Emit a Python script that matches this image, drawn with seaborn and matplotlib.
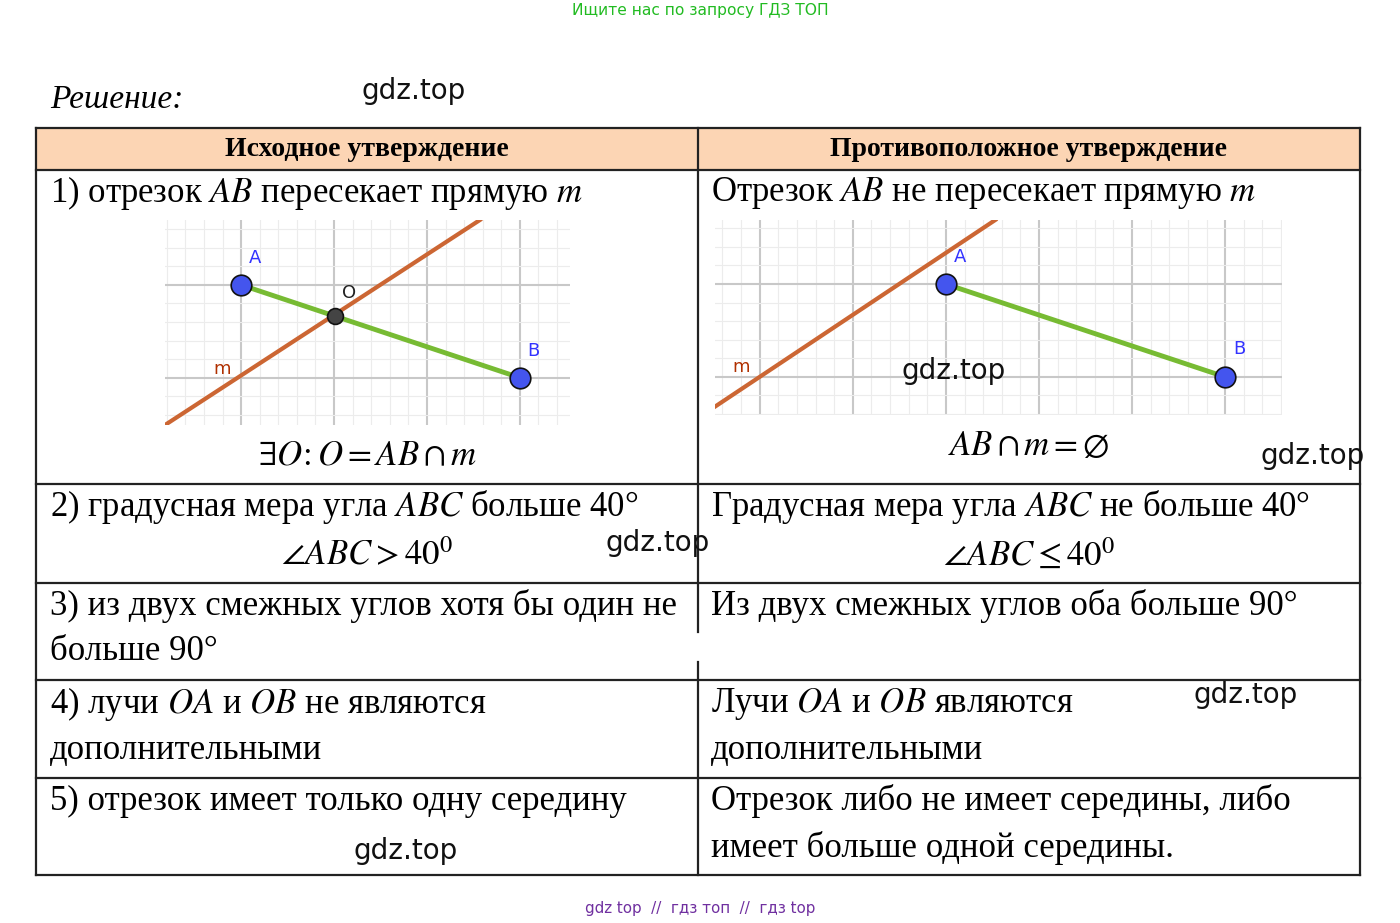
import matplotlib
matplotlib.use("Agg")
import matplotlib.pyplot as plt
import seaborn as sns
import numpy as np
import pandas as pd

plt.rcParams["mathtext.fontset"] = "stix"
SERIF = "Liberation Serif"

# ---- data ----
left_pts = pd.DataFrame({"name": ["A", "B", "O"], "x": [0.0, 3.0, 1.01], "y": [1.0, 0.0, 0.67]})
left_line_m = pd.DataFrame({"x": [-0.82, 2.57], "y": [-0.51, 1.70]})
left_labels = [("A", 0.15, 1.29, "#3333ff"), ("O", 1.16, 0.91, "#222222"),
               ("B", 3.15, 0.29, "#3333ff"), ("m", -0.2, 0.09, "#b03000")]
left_range = (-0.82, 3.54, -0.51, 1.70)

right_pts = pd.DataFrame({"name": ["A", "B"], "x": [0.0, 3.0], "y": [1.0, 0.0]})
right_line_m = pd.DataFrame({"x": [-2.48, 0.53], "y": [-0.32, 1.69]})
right_labels = [("A", 0.15, 1.29, "#3333ff"), ("B", 3.15, 0.30, "#3333ff"),
                ("m", -2.2, 0.11, "#b03000")]
right_range = (-2.48, 3.61, -0.41, 1.69)

header = ["Исходное утверждение", "Противоположное утверждение"]
col_x = [36, 698, 1360]
row_y = [128, 170, 484, 583, 680, 778, 875]

fig = plt.figure(figsize=(14, 9.23), dpi=100)
ax = fig.add_axes([0, 0, 1, 1])
ax.set_xlim(0, 1400); ax.set_ylim(923, 0); ax.axis("off")

W, H = 1400, 923
FS = 25
def T(x, y, s, size=FS, ha="left", target=None, **kw):
    kw.setdefault("family", SERIF)
    (target or ax).text(x, y, s, fontsize=size, ha=ha, va="center", **kw)

ax.add_patch(plt.Rectangle((36, 128), 1324, 42, facecolor="#fcd5b4", edgecolor="none"))
for y in row_y:
    ax.plot([36, 1360], [y, y], color="#222", lw=1.6)
ax.plot([36, 36], [128, 875], color="#222", lw=1.6)
ax.plot([1360, 1360], [128, 875], color="#222", lw=1.6)
ax.plot([698, 698], [128, 632], color="#222", lw=1.6)
ax.plot([698, 698], [662, 875], color="#222", lw=1.6)

T(700, 11, "Ищите нас по запросу ГДЗ ТОП", size=11.2, ha="center", color="#22bb22", family="DejaVu Sans")
T(50, 100, "Решение:", size=24, style="italic")
T(367, 149, header[0], size=20, ha="center", weight="bold")
T(1029, 149, header[1], size=20, ha="center", weight="bold")

T(50, 193, "1) отрезок $AB$ пересекает прямую $m$")
T(711, 193, "Отрезок $AB$ не пересекает прямую $m$")
T(367, 457, r"$\exists O\!:O=AB\cap m$", ha="center")
T(1029, 447, r"$AB\cap m=\emptyset$", ha="center")
T(50, 507, "2) градусная мера угла $ABC$ больше 40°")
T(711, 507, "Градусная мера угла $ABC$ не больше 40°")
T(367, 556, r"$\angle ABC>40^0$", ha="center")
T(1029, 556, r"$\angle ABC\leq 40^0$", ha="center")
T(50, 606, "3) из двух смежных углов хотя бы один не")
T(50, 652, "больше 90°")
T(711, 606, "Из двух смежных углов оба больше 90°")
T(50, 704, "4) лучи $OA$ и $OB$ не являются")
T(50, 751, "дополнительными")
T(711, 704, "Лучи $OA$ и $OB$ являются")
T(711, 751, "дополнительными")
T(50, 801, "5) отрезок имеет только одну середину")
T(711, 801, "Отрезок либо не имеет середины, либо")
T(711, 848, "имеет больше одной середины.")
T(700, 908, "gdz top  //  гдз топ  //  гдз top", size=10.9, ha="center", family="DejaVu Sans", color="#7030a0")

def diagram(px0, py0, px1, py1, rng, pts, line, labels):
    x0, x1, y0, y1 = rng
    a = fig.add_axes([px0 / W, 1 - py1 / H, (px1 - px0) / W, (py1 - py0) / H])
    a.set_xlim(x0, x1); a.set_ylim(y0, y1)
    for v in np.arange(np.ceil(x0 * 5) / 5, x1, 0.2):
        major = abs(v - round(v)) < 1e-6
        a.axvline(v, color="#c8c8c8" if major else "#ececec", lw=1.5 if major else 0.8, zorder=0)
    for v in np.arange(np.ceil(y0 * 5) / 5, y1, 0.2):
        major = abs(v - round(v)) < 1e-6
        a.axhline(v, color="#c8c8c8" if major else "#ececec", lw=1.5 if major else 0.8, zorder=0)
    sns.lineplot(data=line, x="x", y="y", ax=a, color="#cc6633", lw=3, zorder=2)
    ab = pts[pts.name.isin(["A", "B"])]
    sns.lineplot(data=ab, x="x", y="y", ax=a, color="#77bb33", lw=3.5, zorder=3)
    sns.scatterplot(data=ab, x="x", y="y", ax=a, color="#4455ee", s=220, edgecolor="#111", linewidth=1.2, zorder=4)
    o = pts[pts.name == "O"]
    if len(o):
        sns.scatterplot(data=o, x="x", y="y", ax=a, color="#444444", s=130, edgecolor="#111", linewidth=1.2, zorder=4)
    for s, x, y, c in labels:
        a.text(x, y, s, color=c, fontsize=13, family="DejaVu Sans", ha="center", va="center")
    a.axis("off")

diagram(165, 220, 570, 425, left_range, left_pts, left_line_m, left_labels)
diagram(715, 220, 1282, 415, right_range, right_pts, right_line_m, right_labels)

top = fig.add_axes([0, 0, 1, 1], facecolor="none")
top.set_xlim(0, 1400); top.set_ylim(923, 0); top.axis("off")
for (x, y) in [(414, 91), (954, 371), (1313, 456), (658, 543), (1246, 695), (406, 851)]:
    T(x, y, "gdz.top", size=20, ha="center", family="DejaVu Sans", color="#111", target=top)

fig.savefig("out.png", dpi=100)
